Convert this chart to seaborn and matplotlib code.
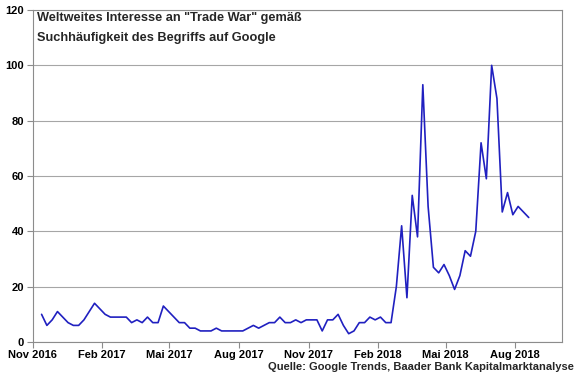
"""
Google Trends chart: worldwide search interest in "Trade War".
Weekly values, Nov 2016 - Aug 2018. Writes out.png (580x374).
"""

import matplotlib
matplotlib.use("Agg")
import matplotlib.pyplot as plt
import pandas as pd
import seaborn as sns

# ---- data (weekly, first week starts 2016-11-13) ----
first_week = "2016-11-13"
interest = [
    10, 6, 8, 11, 9, 7, 6, 6, 8, 11, 14, 12, 10, 9, 9, 9, 9, 7,
    8, 7, 9, 7, 7, 13, 11, 9, 7, 7, 5, 5, 4, 4, 4, 5, 4, 4,
    4, 4, 4, 5, 6, 5, 6, 7, 7, 9, 7, 7, 8, 7, 8, 8, 8, 4,
    8, 8, 10, 6, 3, 4, 7, 7, 9, 8, 9, 7, 7,
    20, 42, 16, 53, 38, 93, 49, 27, 25, 28, 24, 19, 24, 33, 31, 40,
    72, 59, 100, 88, 47, 54, 46, 49, 47, 45,
]

tick_dates = ["2016-11-01", "2017-02-01", "2017-05-01", "2017-08-01",
              "2017-11-01", "2018-02-01", "2018-05-01", "2018-08-01"]
tick_labels = ["Nov 2016", "Feb 2017", "Mai 2017", "Aug 2017",
               "Nov 2017", "Feb 2018", "Mai 2018", "Aug 2018"]
y_ticks = [0, 20, 40, 60, 80, 100, 120]

title_lines = ['Weltweites Interesse an "Trade War" gemäß',
               "Suchhäufigkeit des Begriffs auf Google"]
source_text = "Quelle: Google Trends, Baader Bank Kapitalmarktanalyse"

LINE_COLOR = "#2020c0"
GRAY = "#8c8c8c"


def main():
    sns.set_theme(style="white")
    plt.rcParams["font.family"] = ["Liberation Sans", "DejaVu Sans"]

    df = pd.DataFrame({
        "week": pd.date_range(first_week, periods=len(interest), freq="7D"),
        "interest": interest,
    })

    fig = plt.figure(figsize=(5.8, 3.74), dpi=100)
    ax = fig.add_axes([32.5 / 580, 1 - 342 / 374, (562 - 32.5) / 580, 332 / 374])

    sns.lineplot(data=df, x="week", y="interest", ax=ax,
                 color=LINE_COLOR, linewidth=1.2)

    # ---- axes ----
    ax.set_xlim(pd.Timestamp("2016-11-01"), pd.Timestamp("2018-10-02"))
    ax.set_ylim(0, 120)
    ax.set_xticks(pd.to_datetime(tick_dates))
    ax.set_xticklabels(tick_labels, fontsize=8, fontweight="bold")
    ax.set_yticks(y_ticks)
    ax.set_yticklabels([str(v) for v in y_ticks], fontsize=8, fontweight="bold")
    ax.set_xlabel("")
    ax.set_ylabel("")

    ax.tick_params(axis="both", direction="out", length=4, width=0.8,
                   color=GRAY, labelcolor="black", bottom=True, left=True, pad=2)
    ax.yaxis.grid(True, color="#a6a6a6", linewidth=0.8)
    ax.xaxis.grid(False)
    ax.set_axisbelow(True)
    for spine in ax.spines.values():
        spine.set_color(GRAY)
        spine.set_linewidth(0.8)

    # ---- texts ----
    fig.text(37 / 580, 1 - 18 / 374, title_lines[0], ha="left", va="center",
             fontsize=9.2, fontweight="bold")
    fig.text(37 / 580, 1 - 38 / 374, title_lines[1], ha="left", va="center",
             fontsize=9.2, fontweight="bold")
    fig.text(574 / 580, 1 - 367 / 374, source_text, ha="right", va="center",
             fontsize=8, fontweight="bold")

    fig.savefig("out.png", dpi=100)
    plt.close(fig)


if __name__ == "__main__":
    main()
